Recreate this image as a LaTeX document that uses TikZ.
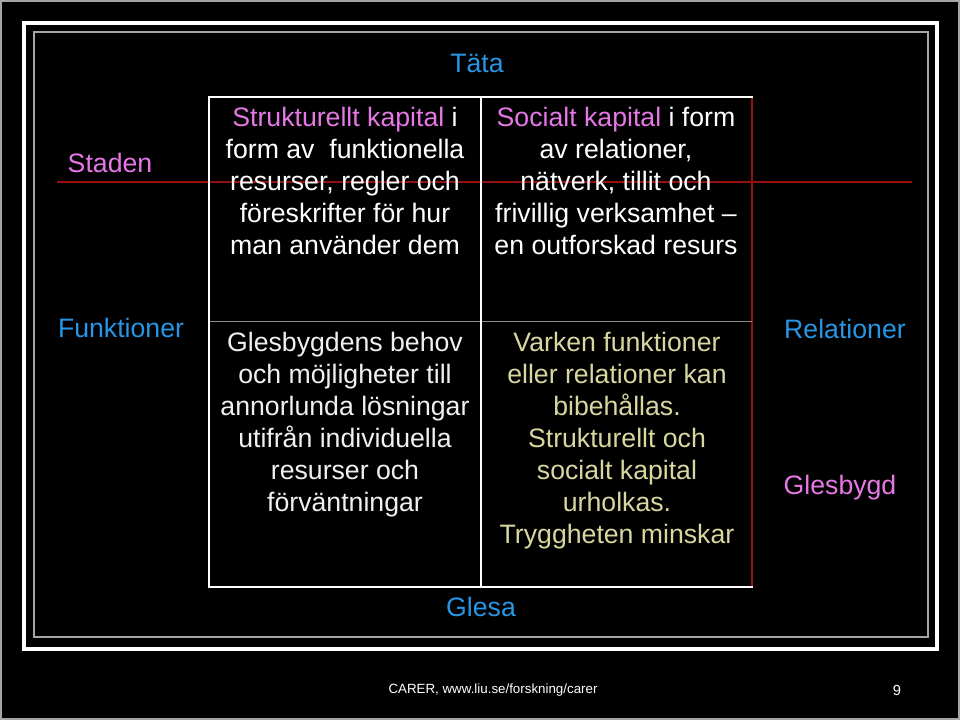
\documentclass[tikz,border=0pt]{standalone}
\usepackage{fontspec}
\setmainfont{Liberation Sans}
\definecolor{pinkc}{RGB}{230,120,230}
\definecolor{bluec}{RGB}{40,150,230}
\definecolor{khaki}{RGB}{215,215,160}
\definecolor{redl}{RGB}{150,15,15}
\definecolor{framegray}{RGB}{165,165,165}
\definecolor{midgray}{RGB}{140,140,140}
\begin{document}
\begin{tikzpicture}[x=0.75pt,y=-0.75pt,
  body/.style={inner sep=0pt,align=center,font=\fontsize{20}{24}\selectfont,text=white},
  lbl/.style={inner sep=0pt,font=\fontsize{20}{24}\selectfont},
  foot/.style={inner sep=0pt,font=\fontsize{10}{12}\selectfont,text=white},
  tline/.style={draw=white,line cap=rect}]
\useasboundingbox (0,0) rectangle (960,720);
\fill[black] (0,0) rectangle (960,720);
\draw[framegray,line width=1.5pt] (0.8,0.8) rectangle (959.2,719.2);
% frames
\draw[white,line width=2.4pt] (24,23) rectangle (937,649);
\draw[framegray,line width=1.5pt] (34,32) rectangle (928,637);
% table corners
\coordinate (t1) at (209,97);
\coordinate (t2) at (481,97);
\coordinate (t3) at (752,97);
\coordinate (b1) at (209,587);
\coordinate (b2) at (481,587);
\coordinate (b3) at (752,587);
\coordinate (m1) at (209,321);
\coordinate (m3) at (752,321);
\coordinate (r1) at (57,182);
\coordinate (r2) at (912,182);
% red lines
\draw[redl,line width=1.2pt] (r1) -- (r2);
\draw[redl,line width=1.2pt] (t3) -- (b3);
% table lines
\draw[midgray,line width=0.6pt] (m1) -- (m3);
\draw[white,line width=1.2pt] (t2) -- (b2);
\draw[tline,line width=2.2pt] (t1) -- (t3);
\draw[tline,line width=2.2pt] (b1) -- (b3);
\draw[tline,line width=2pt] (t1) -- (b1);
% cell texts
\node[body] (tl) at (345,181) {\textcolor{pinkc}{Strukturellt kapital} i\\form av \ funktionella\\resurser, regler och\\föreskrifter för hur\\man använder dem};
\node[body] (tr) at (616,181) {\textcolor{pinkc}{Socialt kapital} i form\\av relationer,\\nätverk, tillit och\\frivillig verksamhet –\\en outforskad resurs};
\node[body,text=white!94!black] (bl) at (345,425) {Glesbygdens behov\\och möjligheter till\\annorlunda lösningar\\utifrån individuella\\resurser och\\förväntningar};
\node[body,text=khaki] (br) at (617,441) {Varken funktioner\\eller relationer kan\\bibehållas.\\Strukturellt och\\socialt kapital\\urholkas.\\Tryggheten minskar};
% axis labels
\node[lbl,text=pinkc] (staden) at (110,163) {Staden};
\node[lbl,text=bluec] (funk) at (121,328) {Funktioner};
\node[lbl,text=bluec] (rel) at (845,329) {Relationer};
\node[lbl,text=pinkc] (glesbygd) at (840,488) {Glesbygd};
\node[lbl,text=bluec] (tata) at (477,63) {Täta};
\node[lbl,text=bluec] (glesa) at (481,607) {Glesa};
% footer
\node[foot] (footer) at (493,690) {CARER, www.liu.se/forskning/carer};
\node[foot,font=\fontsize{11}{13}\selectfont] (pnum) at (897,690) {9};
\end{tikzpicture}
\end{document}
